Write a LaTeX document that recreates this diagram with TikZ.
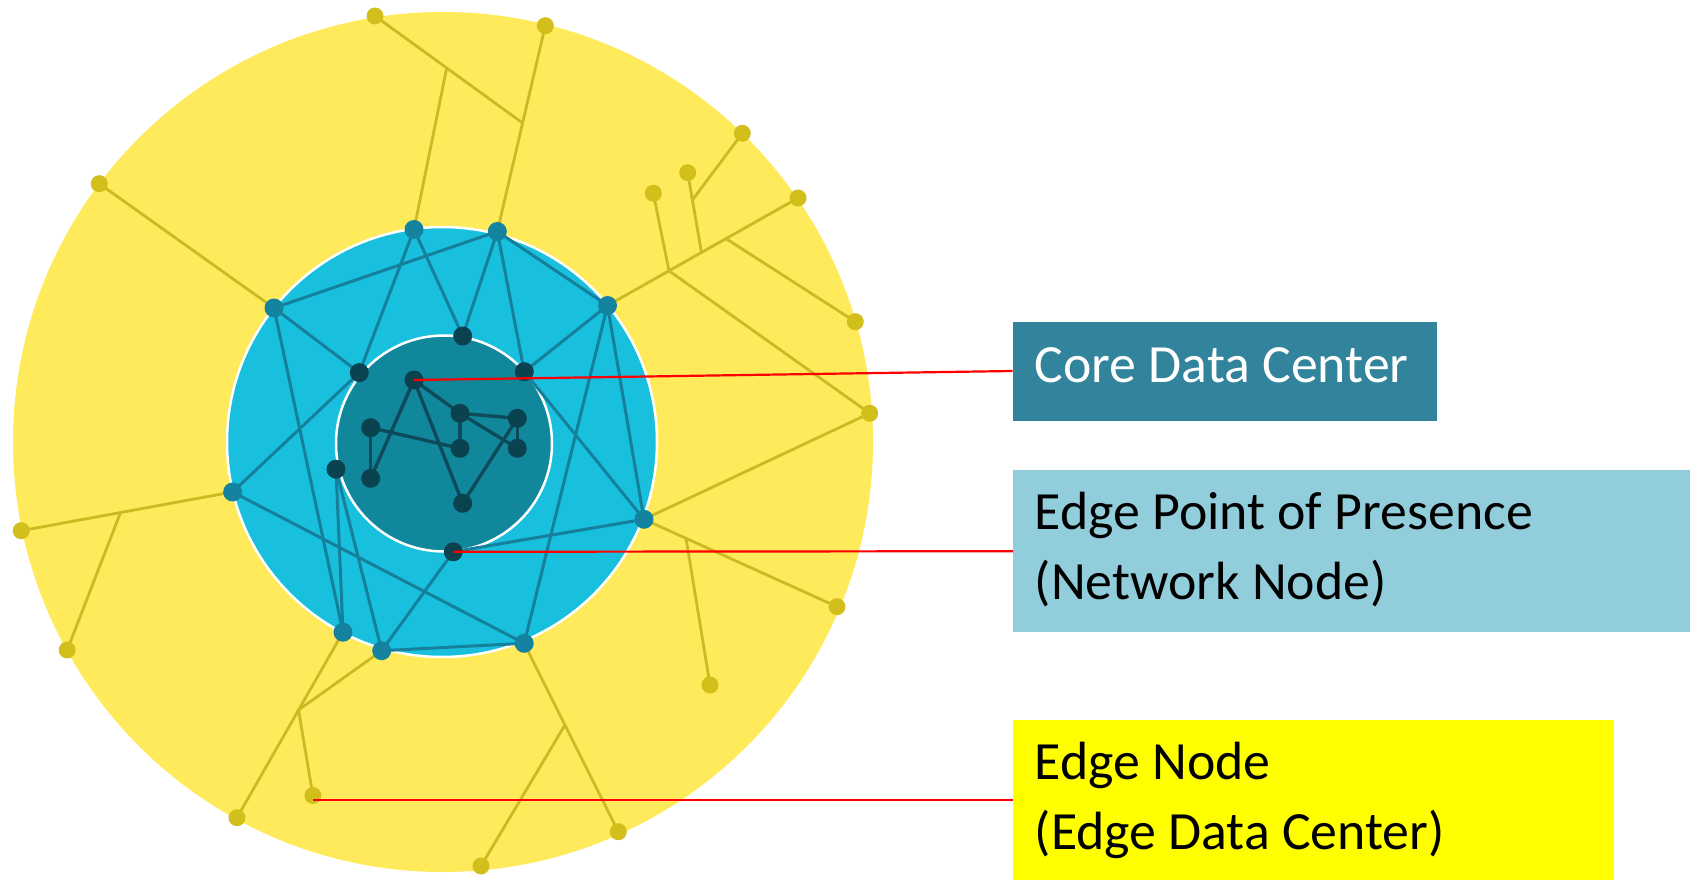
\documentclass[tikz,border=0pt]{standalone}
\usepackage{fontspec}
\setmainfont{Carlito}
\pgfdeclarelayer{l0}\pgfdeclarelayer{l1}\pgfdeclarelayer{l2}\pgfdeclarelayer{l3}
\pgfsetlayers{l0,l1,l2,l3,main}
\definecolor{yfill}{HTML}{FEEA5A}
\definecolor{ydotc}{HTML}{D2BF1C}
\definecolor{ylinec}{HTML}{CDBA22}
\definecolor{bfill}{HTML}{18C0DE}
\definecolor{bdotc}{HTML}{14839F}
\definecolor{blinec}{HTML}{15809C}
\definecolor{cfill}{HTML}{11879C}
\definecolor{cdotc}{HTML}{0B4250}
\definecolor{clinec}{HTML}{0D4B5B}
\definecolor{coreboxc}{HTML}{31849B}
\definecolor{popboxc}{HTML}{92CDDC}
\definecolor{edgeboxc}{HTML}{FFFF00}
\tikzset{
  ydotn/.style={circle,fill=ydotc,minimum size=17pt,inner sep=0pt},
  bdotn/.style={circle,fill=bdotc,minimum size=19pt,inner sep=0pt},
  cdotn/.style={circle,fill=cdotc,minimum size=19pt,inner sep=0pt},
  yl/.style={draw=ylinec,line width=2.8pt},
  bl/.style={draw=blinec,line width=3pt},
  cl/.style={draw=clinec,line width=3.4pt},
  redl/.style={draw=red,line width=2.2pt},
  labelbox/.style={rectangle,inner sep=0pt,anchor=north west},
  lbl/.style={anchor=base west,inner sep=0pt,font=\fontsize{53.8}{62}\selectfont},
}
\begin{document}
\begin{tikzpicture}[x=1pt,y=-1pt]
\useasboundingbox (0,0) rectangle (1690,880);
% discs
\begin{pgfonlayer}{l0}
\node[circle,fill=yfill,minimum size=860pt,inner sep=0pt] (outer) at (443,442) {};
\end{pgfonlayer}
\begin{pgfonlayer}{l2}
\node[circle,fill=bfill,draw=white,line width=2.5pt,minimum size=430pt,inner sep=0pt] (ring) at (442,442) {};
\node[circle,fill=cfill,draw=white,line width=2.5pt,minimum size=216pt,inner sep=0pt] (core) at (444,443.5) {};
\end{pgfonlayer}
% blue ring nodes
\node[bdotn] (B1) at (414,229.5) {};
\node[bdotn] (B2) at (497.3,231.5) {};
\node[bdotn] (B3) at (274,308) {};
\node[bdotn] (B4) at (607.5,305.5) {};
\node[bdotn] (B5) at (232.6,492) {};
\node[bdotn] (B6) at (644,519.3) {};
\node[bdotn] (B7) at (343,632.2) {};
\node[bdotn] (B8) at (381.7,650.7) {};
\node[bdotn] (B9) at (524.2,643.3) {};
% core boundary nodes
\node[cdotn] (ct) at (462.7,336) {};
\node[cdotn] (cul) at (359.3,372.6) {};
\node[cdotn] (cur) at (524.3,371.7) {};
\node[cdotn] (cle) at (336,469.2) {};
\node[cdotn] (cb) at (453.3,551.8) {};
% core inner nodes
\node[cdotn] (c1) at (414,380) {};
\node[cdotn] (c2) at (460,413.3) {};
\node[cdotn] (c3) at (517.3,418.3) {};
\node[cdotn] (c4) at (370.7,427.7) {};
\node[cdotn] (c5) at (460,448.3) {};
\node[cdotn] (c6) at (517.3,448.3) {};
\node[cdotn] (c7) at (370.7,478.3) {};
\node[cdotn] (c8) at (462.7,503.3) {};
% yellow nodes
\node[ydotn] (y1) at (375,16) {};
\node[ydotn] (y2) at (545.3,25.7) {};
\node[ydotn] (y3) at (99.3,183.7) {};
\node[ydotn] (y4) at (742.3,133.3) {};
\node[ydotn] (y5) at (687.7,172.7) {};
\node[ydotn] (y6) at (653.3,193.3) {};
\node[ydotn] (y7) at (798,198) {};
\node[ydotn] (y8) at (855.3,321.7) {};
\node[ydotn] (y9) at (869.7,413.3) {};
\node[ydotn] (y10) at (837,606.7) {};
\node[ydotn] (y11) at (710,685) {};
\node[ydotn] (y12) at (21.2,530.7) {};
\node[ydotn] (y13) at (67.2,650) {};
\node[ydotn] (y14) at (237,817.7) {};
\node[ydotn] (y15) at (312.9,795.5) {};
\node[ydotn] (y16) at (618.3,831.7) {};
\node[ydotn] (y17) at (481,866) {};
% junctions
\coordinate (j1) at (522.6,123);
\coordinate (j2) at (446.7,68);
\coordinate (ja) at (669,270.8);
\coordinate (jb) at (701.5,252.5);
\coordinate (jc) at (692.4,200);
\coordinate (jd) at (726,238.6);
\coordinate (je) at (686,538.3);
\coordinate (jf) at (120.5,512.6);
\coordinate (jg) at (298.5,710);
\coordinate (jh) at (564.9,725);
% yellow lines
\begin{pgfonlayer}{l1}
\draw[yl] (y1.center) -- (j1);
\draw[yl] (y2.center) -- (B2.center);
\draw[yl] (j2) -- (B1.center);
\draw[yl] (y3.center) -- (B3.center);
\draw[yl] (B4.center) -- (y7.center);
\draw[yl] (y6.center) -- (ja) -- (y9.center);
\draw[yl] (y5.center) -- (jb);
\draw[yl] (y4.center) -- (jc);
\draw[yl] (jd) -- (y8.center);
\draw[yl] (B6.center) -- (y9.center);
\draw[yl] (B6.center) -- (y10.center);
\draw[yl] (je) -- (y11.center);
\draw[yl] (B5.center) -- (y12.center);
\draw[yl] (jf) -- (y13.center);
\draw[yl] (B7.center) -- (y14.center);
\draw[yl] (B8.center) -- (jg) -- (y15.center);
\draw[yl] (B9.center) -- (y16.center);
\draw[yl] (jh) -- (y17.center);
\end{pgfonlayer}
% blue and core lines
\begin{pgfonlayer}{l3}
\draw[bl] (B1.center) -- (cul.center);
\draw[bl] (B1.center) -- (ct.center);
\draw[bl] (B2.center) -- (B3.center);
\draw[bl] (B2.center) -- (ct.center);
\draw[bl] (B2.center) -- (cur.center);
\draw[bl] (B2.center) -- (B4.center);
\draw[bl] (B3.center) -- (cul.center);
\draw[bl] (B3.center) -- (B7.center);
\draw[bl] (B4.center) -- (cur.center);
\draw[bl] (B4.center) -- (B9.center);
\draw[bl] (B4.center) -- (B6.center);
\draw[bl] (cur.center) -- (B6.center);
\draw[bl] (cul.center) -- (B5.center);
\draw[bl] (B5.center) -- (B9.center);
\draw[bl] (cle.center) -- (B7.center);
\draw[bl] (cle.center) -- (B8.center);
\draw[bl] (cb.center) -- (B8.center);
\draw[bl] (B8.center) -- (B9.center);
\draw[bl] (cb.center) -- (B6.center);
\draw[cl] (c1.center) -- (c2.center);
\draw[cl] (c2.center) -- (c3.center);
\draw[cl] (c2.center) -- (c5.center);
\draw[cl] (c2.center) -- (c6.center);
\draw[cl] (c3.center) -- (c6.center);
\draw[cl] (c3.center) -- (c8.center);
\draw[cl] (c1.center) -- (c8.center);
\draw[cl] (c1.center) -- (c7.center);
\draw[cl] (c4.center) -- (c7.center);
\draw[cl] (c4.center) -- (c5.center);
\end{pgfonlayer}
% label boxes
\node[labelbox,fill=coreboxc,minimum width=424pt,minimum height=99pt] (corebox) at (1012.5,321.3) {};
\node[labelbox,fill=popboxc,minimum width=677pt,minimum height=162pt] (popbox) at (1013,470) {};
\node[labelbox,fill=edgeboxc,minimum width=601pt,minimum height=160pt] (edgebox) at (1013,720) {};
\node[lbl,text=white] (t1) at (1034.5,382) {Core Data Center};
\node[lbl] (t2) at (1034.5,529.4) {Edge Point of Presence};
\node[lbl] (t3) at (1034.5,599.7) {(Network Node)};
\node[lbl] (t4) at (1034.5,779.8) {Edge Node};
\node[lbl] (t5) at (1034.5,849.4) {(Edge Data Center)};
% red connectors
\draw[redl] (c1.center) -- (corebox.west);
\draw[redl] (cb.center) -- (popbox.west);
\draw[redl] (y15.center |- edgebox.west) -- (edgebox.west);
\end{tikzpicture}
\end{document}
